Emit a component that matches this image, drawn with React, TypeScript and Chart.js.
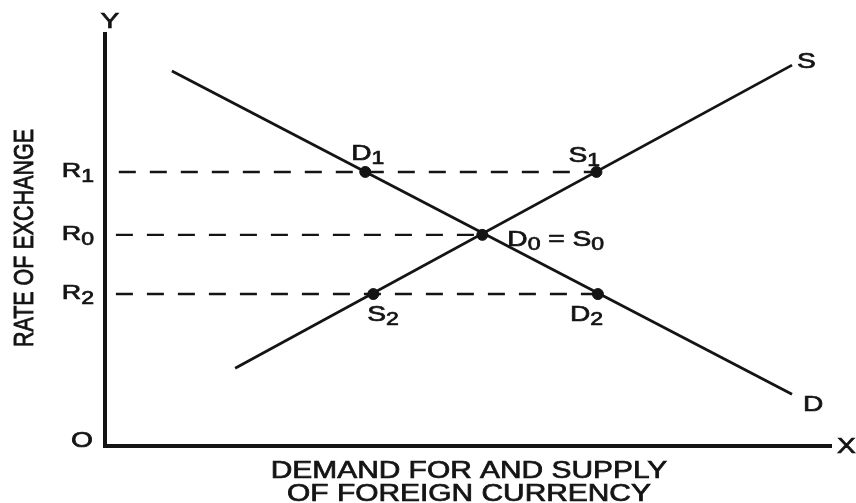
import React, { useEffect, useRef } from "react";
import { Chart, registerables } from "chart.js";

Chart.register(...registerables);

// ---- data (x: quantity of foreign currency, y: rate of exchange) ----
const demandX = [9.2, 94.5];
const demandY = [90.6, 12.5];
const supplyX = [17.9, 94.5];
const supplyY = [18.8, 92.0];

const pointNames = ["D1", "S1", "D0=S0", "S2", "D2"];
const pointX = [35.8, 67.6, 51.9, 36.9, 67.8];
const pointY = [66.2, 66.2, 51.0, 36.7, 36.7];

const rateNames = ["R1", "R0", "R2"];
const rateY = [66.2, 51.0, 36.7];
const rateStartX = [1.9, 1.5, 1.5];
const rateEndX = [67.6, 51.9, 67.8];

const xTitle = ["DEMAND FOR AND SUPPLY", "OF FOREIGN CURRENCY"];
const yTitle = "RATE OF EXCHANGE";

const INK = "#141414";
const FONT = "'Liberation Sans', Arial, sans-serif";
const STRETCH = 1.28;
const HEAVY = 0.7; // extra stroke for the scanned, slightly heavy lettering

type Seg = { t: string; sub?: boolean };

function parseLabel(s: string): Seg[] {
  const segs: Seg[] = [];
  for (const ch of s) {
    if (/[0-9]/.test(ch)) segs.push({ t: ch, sub: true });
    else if (ch === "=") segs.push({ t: " = " });
    else segs.push({ t: ch });
  }
  return segs;
}

function drawRich(
  ctx: CanvasRenderingContext2D,
  segs: Seg[],
  x: number,
  baseline: number,
  size: number,
  subSize: number,
  drop: number,
  stretch: number,
  align: "left" | "center" | "right"
) {
  let total = 0;
  const widths = segs.map((s) => {
    ctx.font = `${s.sub ? subSize : size}px ${FONT}`;
    const w = ctx.measureText(s.t).width * stretch;
    total += w;
    return w;
  });
  let cx = align === "left" ? x : align === "center" ? x - total / 2 : x - total;
  segs.forEach((s, i) => {
    ctx.save();
    ctx.font = `${s.sub ? subSize : size}px ${FONT}`;
    ctx.textAlign = "left";
    ctx.textBaseline = "alphabetic";
    ctx.translate(cx, baseline + (s.sub ? drop : 0));
    ctx.scale(stretch, 1);
    ctx.fillText(s.t, 0, 0);
    ctx.lineWidth = HEAVY;
    ctx.strokeStyle = INK;
    ctx.strokeText(s.t, 0, 0);
    ctx.restore();
    cx += widths[i];
  });
}

const labelOffsets: Record<string, [number, number]> = {
  "D1": [-14, -12],
  "S1": [-28, -10],
  "D0=S0": [25, 11],
  "S2": [-6, 27],
  "D2": [-28, 27],
};

const diagramPlugin = {
  id: "diagram",
  beforeDatasetsDraw(chart: any) {
    const { ctx, chartArea } = chart;
    ctx.save();
    ctx.strokeStyle = INK;
    ctx.lineWidth = 4;
    ctx.lineCap = "butt";
    ctx.beginPath();
    ctx.moveTo(chartArea.left, chartArea.top);
    ctx.lineTo(chartArea.left, chartArea.bottom);
    ctx.lineTo(chartArea.right, chartArea.bottom);
    ctx.stroke();
    ctx.restore();
  },
  afterDatasetsDraw(chart: any) {
    const { ctx, chartArea, scales } = chart;
    const xs = scales.x;
    const ys = scales.y;
    ctx.save();
    ctx.fillStyle = INK;

    pointNames.forEach((name, i) => {
      const px = xs.getPixelForValue(pointX[i]);
      const py = ys.getPixelForValue(pointY[i]);
      const [dx, dy] = labelOffsets[name];
      drawRich(ctx, parseLabel(name), px + dx, py + dy, 22, 18, 4, STRETCH, "left");
    });

    rateNames.forEach((name, i) => {
      const py = ys.getPixelForValue(rateY[i]);
      drawRich(ctx, parseLabel(name), chartArea.left - 11, py + 5, 21, 18, 5, STRETCH, "right");
    });

    const sx = xs.getPixelForValue(supplyX[1]);
    const sy = ys.getPixelForValue(supplyY[1]);
    drawRich(ctx, [{ t: "S" }], sx + 5, sy + 3, 22, 17, 0, STRETCH, "left");
    const dxp = xs.getPixelForValue(demandX[1]);
    const dyp = ys.getPixelForValue(demandY[1]);
    drawRich(ctx, [{ t: "D" }], dxp + 11, dyp + 17, 22, 17, 0, STRETCH, "left");

    drawRich(ctx, [{ t: "Y" }], chartArea.left + 5, chartArea.top - 4, 22, 17, 0, STRETCH, "center");
    drawRich(ctx, [{ t: "X" }], chartArea.right + 5, chartArea.bottom + 7, 22, 17, 0, STRETCH, "left");
    drawRich(ctx, [{ t: "O" }], chartArea.left - 12, chartArea.bottom + 1, 22, 17, 0, STRETCH, "right");

    const midX = 469;
    drawRich(ctx, [{ t: xTitle[0] }], midX, chartArea.bottom + 32, 23, 17, 0, 1.3, "center");
    drawRich(ctx, [{ t: xTitle[1] }], midX, chartArea.bottom + 55, 23, 17, 0, 1.3, "center");

    ctx.save();
    ctx.translate(33, 238);
    ctx.scale(STRETCH, 1);
    ctx.rotate(-Math.PI / 2);
    ctx.font = `21.5px ${FONT}`;
    ctx.textAlign = "center";
    ctx.textBaseline = "alphabetic";
    ctx.fillText(yTitle, 0, 0);
    ctx.lineWidth = HEAVY;
    ctx.strokeStyle = INK;
    ctx.strokeText(yTitle, 0, 0);
    ctx.restore();

    ctx.restore();
  },
};

export default function App() {
  const ref = useRef<HTMLCanvasElement | null>(null);
  useEffect(() => {
    document.body.style.margin = "0";
    document.body.style.background = "#ffffff";
    const canvas = ref.current!;
    const dashed = rateNames.map((name, i) => ({
      label: name,
      data: [
        { x: rateStartX[i], y: rateY[i] },
        { x: rateEndX[i], y: rateY[i] },
      ],
      borderColor: INK,
      borderWidth: 2.4,
      borderDash: [17, 14],
      pointRadius: 0,
      showLine: true,
      order: 3,
    }));
    const chart = new Chart(canvas, {
      type: "scatter",
      data: {
        datasets: [
          ...dashed,
          {
            label: "D",
            data: demandX.map((x, i) => ({ x, y: demandY[i] })),
            borderColor: INK,
            borderWidth: 2.8,
            pointRadius: 0,
            showLine: true,
            order: 2,
          },
          {
            label: "S",
            data: supplyX.map((x, i) => ({ x, y: supplyY[i] })),
            borderColor: INK,
            borderWidth: 2.8,
            pointRadius: 0,
            showLine: true,
            order: 2,
          },
          {
            label: "points",
            data: pointX.map((x, i) => ({ x, y: pointY[i] })),
            backgroundColor: INK,
            borderColor: INK,
            pointRadius: 5.5,
            showLine: false,
            order: 1,
          },
        ],
      },
      options: {
        animation: false,
        responsive: false,
        maintainAspectRatio: false,
        layout: { padding: { left: 105, right: 24, top: 32, bottom: 57 } },
        plugins: { legend: { display: false }, tooltip: { enabled: false } },
        scales: {
          x: { type: "linear", min: 0, max: 100, display: false },
          y: { type: "linear", min: 0, max: 100, display: false },
        },
      },
      plugins: [diagramPlugin],
    });
    return () => chart.destroy();
  }, []);
  return (
    <div style={{ width: 856, height: 503, background: "#fff" }}>
      <canvas ref={ref} width={856} height={503} style={{ display: "block", width: 856, height: 503 }} />
    </div>
  );
}
